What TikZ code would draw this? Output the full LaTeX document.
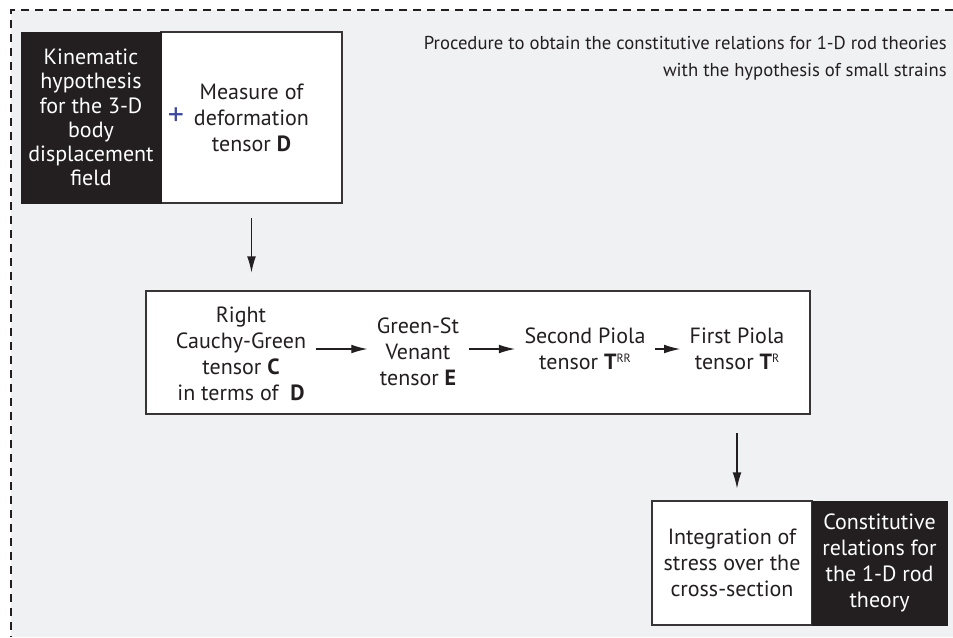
\documentclass[tikz,border=0pt]{standalone}
\usepackage{fontspec}
\setmainfont{PT Sans}
\usetikzlibrary{arrows.meta}
\definecolor{ink}{HTML}{231F20}
\definecolor{paper}{HTML}{F0F1F3}
\definecolor{plusblue}{HTML}{3E4A9E}

\tikzset{
  darkbox/.style={fill=ink, draw=ink, text=white, align=center, inner sep=0pt},
  lightbox/.style={fill=white, draw=ink!90, line width=0.8pt, align=center, inner sep=0pt},
  stepnode/.style={align=center, inner sep=7pt},
  steparrow/.style={-{Latex[length=12pt,width=6.5pt]}, draw=ink, line width=0.8pt},
}

\begin{document}
\begin{tikzpicture}[x=0.75pt, y=-0.75pt, font=\fontsize{16.5}{19.5}\selectfont, text=ink]
\useasboundingbox (0,0) rectangle (953,637);
\fill[paper] (11,10) rectangle (953,637);
\draw[ink, dash pattern=on 6pt off 4.5pt, line width=0.9pt] (953,10) -- (11,10) -- (11,637);

% title
\node[anchor=north east, align=right, inner sep=0pt, font=\fontsize{14}{20}\selectfont] (title) at (947,36)
  {Procedure to obtain the constitutive relations for 1-D rod theories\\with the hypothesis of small strains};

% top row
\node[lightbox, minimum width=135.75pt, minimum height=128.25pt] (meas) at (251.5,117.5)
  {Measure of\\deformation\\tensor \textbf{D}};
\node[darkbox, minimum width=105pt, minimum height=128.25pt, font=\fontsize{16.5}{18.2}\selectfont] (kin) at (91,117.5)
  {Kinematic\\hypothesis\\for the 3-D\\body\\displacement\\field};
\node[text=plusblue, inner sep=0pt, font=\fontsize{24}{24}\selectfont] (plus) at (176,117) {+};

% chain of tensors
\node[lightbox, minimum width=498pt, minimum height=92.25pt] (chain) at (478,352.5) {};
\node[stepnode] (rcg) at (241,354) {Right\\Cauchy-Green\\tensor \textbf{C}\\in terms of \ \textbf{D}};
\node[stepnode] (gsv) at (418,352) {Green-St\\Venant\\tensor \textbf{E}};
\node[stepnode] (spk) at (585,349) {Second Piola\\tensor \textbf{T}{\fontsize{9}{9}\selectfont\raisebox{5.5pt}{RR}}};
\node[stepnode] (fpk) at (737,349) {First Piola\\tensor \textbf{T}{\fontsize{9}{9}\selectfont\raisebox{5.5pt}{R}}};
\draw[steparrow] (rcg.east |- spk) -- (gsv.west |- spk);
\draw[steparrow] (gsv.east |- spk) -- (spk.west);
\draw[steparrow] (spk) -- (fpk);

% bottom row
\node[lightbox, minimum width=120pt, minimum height=93pt] (integ) at (732,563)
  {Integration of\\stress over the\\cross-section};
\node[darkbox, minimum width=101.25pt, minimum height=93pt] (const) at (879.5,563)
  {Constitutive\\relations for\\the 1-D rod\\theory};

% vertical arrows
\draw[steparrow, shorten <=10.5pt, shorten >=13.5pt] (meas.south) -- (meas.south |- chain.north);
\draw[steparrow, shorten <=14pt, shorten >=9pt] (fpk.south |- chain.south) -- (fpk.south |- integ.north);
\end{tikzpicture}
\end{document}
